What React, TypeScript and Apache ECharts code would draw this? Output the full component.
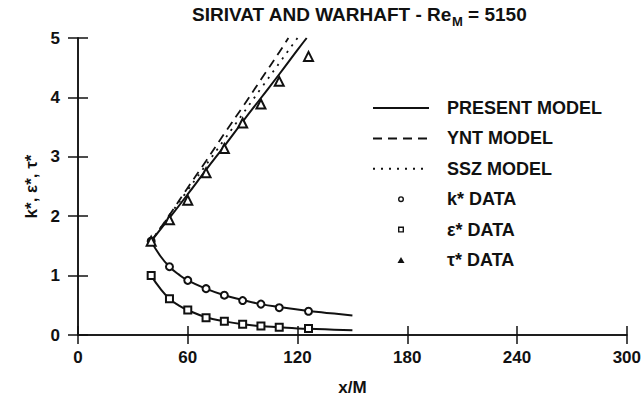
import React, { useEffect, useRef } from "react";
import * as echarts from "echarts";

// ---- data ----
const dataX = [40, 50, 60, 70, 80, 90, 100, 110, 126];
const kData = [1.58, 1.15, 0.92, 0.78, 0.67, 0.58, 0.52, 0.46, 0.40];
const epsData = [1.0, 0.61, 0.42, 0.29, 0.23, 0.18, 0.15, 0.13, 0.11];
const tauData = [1.58, 1.94, 2.27, 2.73, 3.14, 3.57, 3.89, 4.27, 4.69];

const modelKEX = [40, 45, 50, 55, 60, 70, 80, 90, 100, 110, 120, 130, 140, 150];
const presentK = [1.58, 1.33, 1.15, 1.02, 0.92, 0.78, 0.67, 0.59, 0.52, 0.47, 0.43, 0.39, 0.36, 0.33];
const presentEps = [1.0, 0.78, 0.61, 0.5, 0.42, 0.3, 0.23, 0.18, 0.15, 0.13, 0.11, 0.1, 0.09, 0.08];

const presentTauX = [40, 50, 60, 70, 80, 90, 100, 110, 120, 125];
const presentTau = [1.58, 1.97, 2.37, 2.78, 3.18, 3.59, 3.99, 4.39, 4.8, 5.0];
const yntTauX = [40, 50, 60, 70, 80, 90, 100, 110, 115];
const yntTau = [1.58, 2.02, 2.48, 2.93, 3.39, 3.84, 4.3, 4.76, 5.0];
const sszTauX = [40, 60, 80, 100, 120];
const sszTau = [1.58, 2.44, 3.29, 4.15, 5.0];

const modelNames = ["PRESENT MODEL", "YNT MODEL", "SSZ MODEL"];
const dataNames = ["k* DATA", "ε* DATA", "τ* DATA"];
const titleMain = "SIRIVAT AND WARHAFT - Re";
const titleSub = "M";
const titleEnd = " = 5150";
const xName = "x/M";
const yName = "k*, ε*, τ*";

const zip = (xs: number[], ys: number[]) => xs.map((x, i) => [x, ys[i]]);

const FONT = "'Liberation Sans', Arial, Helvetica, sans-serif";
const INK = "#111";
const CLEAR = "rgba(0,0,0,0)";

// legend marker icons: a 56x7 box (invisible moves) holding a small marker in its middle
const BOX = "M0 0 M56 7 ";
const ICON_CIRCLE =
  "path://" +
  BOX +
  "M25 3.5 A3 3 0 1 1 31 3.5 A3 3 0 1 1 25 3.5 Z M26.4 3.5 A1.6 1.6 0 1 0 29.6 3.5 A1.6 1.6 0 1 0 26.4 3.5 Z";
const ICON_SQUARE =
  "path://" + BOX + "M25 0.5 L31 0.5 L31 6.5 L25 6.5 Z M26.4 1.9 L26.4 5.1 L29.6 5.1 L29.6 1.9 Z";
const ICON_TRIANGLE = "path://" + BOX + "M24.5 6.5 L28 0.5 L31.5 6.5 Z";
const dataIcons = [ICON_CIRCLE, ICON_SQUARE, ICON_TRIANGLE];

export default function App() {
  const ref = useRef<HTMLDivElement>(null);
  useEffect(() => {
    if (!ref.current) return;
    const chart = echarts.init(ref.current, undefined, { renderer: "svg" });
    const solid = { color: INK, width: 2, type: "solid" as const };
    const lineBase = {
      type: "line",
      symbol: "none",
      smooth: true,
      silent: true,
      z: 3,
      itemStyle: { color: CLEAR },
    };
    const scatterBase = {
      type: "scatter",
      z: 4,
      itemStyle: { color: INK, borderColor: INK, borderWidth: 1.5, opacity: 1 },
    };
    const labelFont = { fontFamily: FONT, fontSize: 17, fontWeight: "bold" as const, color: INK };
    const legendData = [
      ...modelNames.map((name) => ({ name })),
      ...dataNames.map((name, i) => ({
        name,
        icon: dataIcons[i],
        itemStyle: { color: INK, borderWidth: 0, opacity: 1 },
      })),
    ];
    chart.setOption({
      animation: false,
      backgroundColor: "#fff",
      textStyle: { fontFamily: FONT, color: INK },
      title: {
        text: `{a|${titleMain}}{s|${titleSub}}{a|${titleEnd}}`,
        left: 192,
        top: 5,
        padding: 0,
        textStyle: {
          rich: {
            a: { fontFamily: FONT, fontSize: 19, fontWeight: "bold", color: INK, lineHeight: 20, verticalAlign: "top" },
            s: { fontFamily: FONT, fontSize: 13, fontWeight: "bold", color: INK, lineHeight: 13, padding: [10, 0, 0, 0], verticalAlign: "top" },
          },
        },
      },
      legend: {
        orient: "vertical",
        left: 372,
        top: 99,
        padding: 0,
        itemWidth: 56,
        itemHeight: 7,
        itemGap: 12.4,
        data: legendData,
        selectedMode: false,
        textStyle: { ...labelFont, fontSize: 18, lineHeight: 18, padding: [0, 0, 0, 13] },
      },
      grid: { left: 78, right: 15, top: 38, bottom: 61, show: false },
      xAxis: [
        {
          type: "value",
          min: 0,
          max: 300,
          interval: 60,
          position: "bottom",
          name: xName,
          nameLocation: "middle",
          nameGap: 44,
          nameTextStyle: labelFont,
          axisLine: { show: true, lineStyle: { color: INK, width: 1.5 } },
          axisTick: { show: true, inside: true, length: 9, lineStyle: { color: INK, width: 1.5 } },
          axisLabel: { ...labelFont, margin: 14 },
          splitLine: { show: false },
        },
        {
          type: "value",
          min: 0,
          max: 300,
          interval: 60,
          position: "top",
          axisLine: { show: true, lineStyle: { color: INK, width: 1.5 } },
          axisTick: { show: true, inside: true, length: 9, lineStyle: { color: INK, width: 1.5 } },
          axisLabel: { show: false },
          splitLine: { show: false },
        },
      ],
      yAxis: [
        {
          type: "value",
          min: 0,
          max: 5,
          interval: 1,
          position: "left",
          name: yName,
          nameLocation: "middle",
          nameRotate: 90,
          nameGap: 38,
          nameTextStyle: labelFont,
          axisLine: { show: true, lineStyle: { color: INK, width: 1.5 } },
          axisTick: { show: true, inside: true, length: 10, lineStyle: { color: INK, width: 1.5 } },
          axisLabel: { ...labelFont, margin: 18 },
          splitLine: { show: false },
        },
        {
          type: "value",
          min: 0,
          max: 5,
          interval: 1,
          position: "right",
          axisLine: { show: true, lineStyle: { color: INK, width: 1.5 } },
          axisTick: { show: true, inside: true, length: 10, lineStyle: { color: INK, width: 1.5 } },
          axisLabel: { show: false },
          splitLine: { show: false },
        },
      ],
      series: [
        { ...lineBase, name: modelNames[0], data: zip(presentTauX, presentTau), lineStyle: solid },
        { ...lineBase, name: modelNames[0], data: zip(modelKEX, presentK), lineStyle: solid },
        { ...lineBase, name: modelNames[0], data: zip(modelKEX, presentEps), lineStyle: solid },
        {
          ...lineBase,
          name: modelNames[1],
          data: zip(yntTauX, yntTau),
          lineStyle: { color: INK, width: 1.8, type: [9, 6] },
        },
        {
          ...lineBase,
          name: modelNames[2],
          data: zip(sszTauX, sszTau),
          lineStyle: { color: INK, width: 1.8, type: [2, 6] },
        },
        { ...scatterBase, name: dataNames[0], symbol: "emptyCircle", symbolSize: 7, data: zip(dataX, kData) },
        { ...scatterBase, name: dataNames[1], symbol: "emptyRect", symbolSize: 7, data: zip(dataX, epsData) },
        { ...scatterBase, name: dataNames[2], symbol: "emptyTriangle", symbolSize: 9, data: zip(dataX, tauData) },
      ],
    });
    return () => chart.dispose();
  }, []);
  return (
    <div
      ref={ref}
      style={{ position: "fixed", left: 0, top: 0, width: 644, height: 401, background: "#fff" }}
    />
  );
}
